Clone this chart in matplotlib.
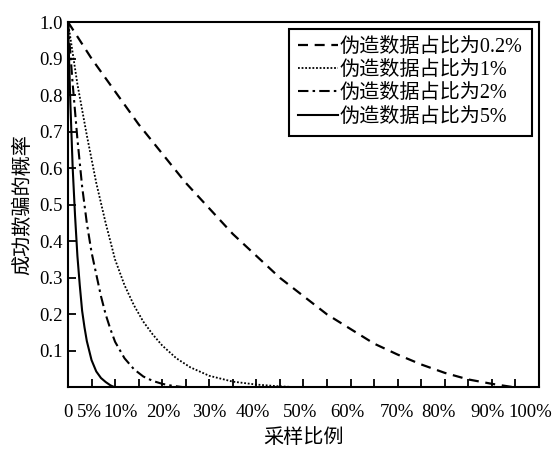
import matplotlib
matplotlib.use("Agg")
import matplotlib.pyplot as plt

plt.rcParams['font.family'] = ['Liberation Serif', 'Noto Sans CJK SC']
plt.rcParams['axes.unicode_minus'] = False

# 伪造数据占比 0.2%
x_02 = [0, 0.05, 0.1, 0.15, 0.2, 0.25, 0.3, 0.35, 0.4, 0.45, 0.5,
        0.55, 0.6, 0.65, 0.7, 0.75, 0.8, 0.85, 0.9, 0.95]
y_02 = [1.0, 0.90, 0.81, 0.72, 0.64, 0.56, 0.49, 0.42, 0.36, 0.30, 0.25,
        0.20, 0.16, 0.12, 0.09, 0.063, 0.04, 0.022, 0.01, 0.0]

# 1%
x_1 = [0, 0.02, 0.04, 0.06, 0.08, 0.10, 0.12, 0.14, 0.16, 0.18, 0.20,
       0.23, 0.26, 0.30, 0.35, 0.40, 0.45, 0.50]
y_1 = [1.0, 0.83, 0.69, 0.56, 0.45, 0.35, 0.28, 0.225, 0.18, 0.145, 0.115,
       0.08, 0.055, 0.032, 0.016, 0.008, 0.003, 0.0]

# 2%
x_2 = [0, 0.01, 0.02, 0.03, 0.04, 0.05, 0.06, 0.07, 0.08, 0.09, 0.10,
       0.12, 0.14, 0.16, 0.18, 0.20, 0.22, 0.25]
y_2 = [1.0, 0.83, 0.68, 0.55, 0.45, 0.37, 0.31, 0.25, 0.20, 0.16, 0.125,
       0.08, 0.05, 0.03, 0.018, 0.01, 0.005, 0.0]

# 5%
x_5 = [0, 0.005, 0.01, 0.015, 0.02, 0.025, 0.03, 0.035, 0.04, 0.05,
       0.06, 0.07, 0.08, 0.09, 0.10]
y_5 = [1.0, 0.78, 0.60, 0.47, 0.36, 0.28, 0.21, 0.165, 0.127, 0.075,
       0.044, 0.026, 0.015, 0.006, 0.0]

labels = ['伪造数据占比为0.2%', '伪造数据占比为1%', '伪造数据占比为2%', '伪造数据占比为5%']

x_ticks = [i * 0.05 for i in range(21)]
# labels sit a little off the tick marks in the original
x_label_pos = [0.0, 0.046, 0.112, 0.202, 0.301, 0.393, 0.493, 0.594, 0.699, 0.786, 0.890, 0.981]
x_ticklabels = ['0', '5%', '10%', '20%', '30%', '40%', '50%', '60%', '70%', '80%', '90%', '100%']
y_ticks = [0.1, 0.2, 0.3, 0.4, 0.5, 0.6, 0.7, 0.8, 0.9, 1.0]
y_ticklabels = ['0.1', '0.2', '0.3', '0.4', '0.5', '0.6', '0.7', '0.8', '0.9', '1.0']

fig = plt.figure(figsize=(5.6, 4.49), dpi=100)
ax = fig.add_axes([0.1214, 0.137, 0.841, 0.814])

ax.plot(x_02, y_02, color='black', lw=1.6, linestyle=(0, (4.5, 3)), label=labels[0])
ax.plot(x_1, y_1, color='black', lw=1.3, linestyle=(0, (1, 1)), label=labels[1])
ax.plot(x_2, y_2, color='black', lw=1.5, linestyle=(0, (5, 2, 1.2, 2)), label=labels[2])
ax.plot(x_5, y_5, color='black', lw=1.5, linestyle='-', label=labels[3])

ax.xaxis.remove_overlapping_locs = False
ax.set_xticks(x_ticks)
ax.set_xticklabels([''] * len(x_ticks))
ax.set_xticks(x_label_pos, minor=True)
ax.set_xticklabels(x_ticklabels, minor=True, fontsize=13.5)
ax.tick_params(axis='x', which='minor', length=0, pad=12)
ax.set_yticks(y_ticks)
ax.set_yticklabels(y_ticklabels, fontsize=13.5)
ax.tick_params(which='major', direction='in', length=6, width=1.3, top=False, right=False)
ax.tick_params(axis='y', pad=4)
ax.set_xlim(0, 1)
ax.set_ylim(0, 1)
for sp in ax.spines.values():
    sp.set_linewidth(1.5)

ax.set_xlabel('采样比例', fontsize=14.5, labelpad=6)
ax.set_ylabel('成功欺骗的概率', fontsize=14.5, labelpad=4)

leg = ax.legend(loc='upper right', fontsize=14.5, frameon=True, fancybox=False,
                edgecolor='black', framealpha=1, handlelength=2.0, handletextpad=0.1,
                labelspacing=0.2, borderpad=0.45, borderaxespad=0.35)
leg.get_frame().set_linewidth(1.5)

fig.savefig('out.png', dpi=100)
